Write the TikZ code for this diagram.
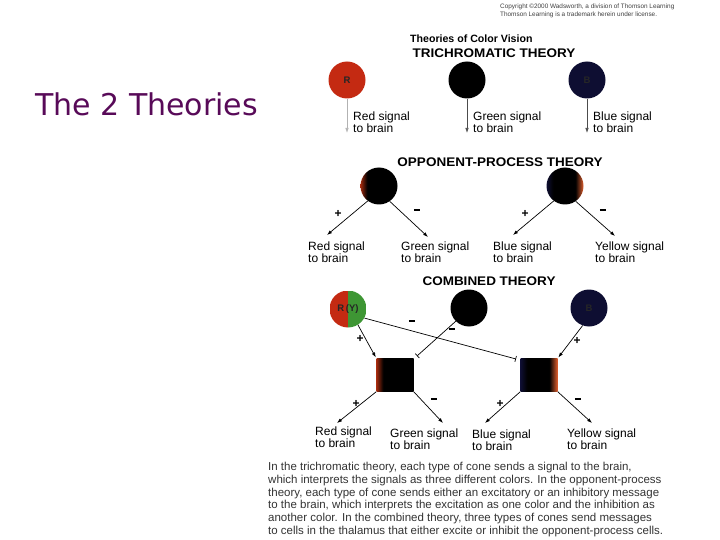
\documentclass[tikz,border=0pt]{standalone}
\usepackage{fontspec}
\setmainfont{Liberation Sans}
\newfontfamily\slidefont{DejaVu Sans}
\usetikzlibrary{arrows.meta}
\definecolor{slidepurple}{RGB}{88,10,88}
\definecolor{conered}{RGB}{196,42,18}
\definecolor{coneblue}{RGB}{14,14,50}
\definecolor{conegreen}{RGB}{62,150,52}
\definecolor{edgered}{RGB}{160,42,14}
\definecolor{edgeorange}{RGB}{225,95,45}
\pgfdeclarehorizontalshading{redfade}{100bp}{color(0bp)=(edgered); color(25bp)=(edgered); color(34bp)=(black); color(100bp)=(black)}
\pgfdeclarehorizontalshading{bluefade}{100bp}{color(0bp)=(coneblue); color(25bp)=(coneblue); color(34bp)=(black); color(64bp)=(black); color(75bp)=(edgeorange); color(100bp)=(edgeorange)}
\newcommand{\signal}[4]{%
  % name, x, y (top of the capitals), colour word.
  \node[sig] (#1) at (#2,#3) {#4 signal\\to brain};
}
\newcommand{\minus}{\rule[2.5pt]{6.5pt}{2pt}}
\tikzset{
  cone/.style={circle, minimum size=37pt, inner sep=0pt, font=\bfseries\fontsize{9.5}{9.5}\selectfont},
  cell/.style={minimum width=37pt, minimum height=33pt, inner sep=0pt},
  sig/.style={anchor=north west, align=left, inner sep=0pt, font=\fontsize{12}{12}\selectfont},
  head/.style={inner sep=0pt, xscale=1.08, font=\bfseries\fontsize{12.5}{12.5}\selectfont},
  sign/.style={inner sep=0pt, font=\bfseries\fontsize{12}{12}\selectfont},
  excite/.style={line width=0.7pt, -{Latex[length=5pt,width=3.5pt]}},
  inhibit/.style={line width=0.7pt, -{Bar[width=6pt]}}
}

\begin{document}
\begin{tikzpicture}[x=1pt,y=-1pt]
  \useasboundingbox (0,0) rectangle (720,540);
  \node[anchor=base west, inner sep=0pt, text=slidepurple, font=\slidefont\fontsize{30}{30}\selectfont] (title) at (35,116) {The 2 Theories};
  \node[anchor=north west, align=left, inner sep=0pt, text=black!75, font=\fontsize{6.4}{8}\selectfont] (copy) at (500,4) {Copyright \textcopyright2000 Wadsworth, a division of Thomson Learning\\Thomson Learning is a trademark herein under license.};
  \node[anchor=base west, inner sep=0pt, font=\bfseries\fontsize{10.6}{10.6}\selectfont] (fig) at (410,43) {Theories of Color Vision};

  % trichromatic
  \node[head] (tri) at (494,53) {TRICHROMATIC THEORY};
  \foreach \nm/\xx/\fc/\lt/\col/\ac in {R/347/conered/R/Red/black!30, G/467/black//Green/black!70, B/587/coneblue/B/Blue/black!70}{%
    \node[cone, fill=\fc, text=black!85] (t\nm) at (\xx,80) {\lt};
    \coordinate (t\nm end) at (\xx,133);
    \draw[excite, \ac] (t\nm) -- (t\nm end);
    \signal{t\nm sig}{\xx+6}{112}{\col}
  }

  % opponent-process
  \node[head] (opp) at (500,162) {OPPONENT-PROCESS THEORY};
  \node[cone, shading=redfade] (oL) at (379,186) {};
  \node[cone, shading=bluefade] (oR) at (565,186) {};
  \coordinate (oLr) at (327,235);
  \coordinate (oLg) at (428,237);
  \coordinate (oRb) at (513,235);
  \coordinate (oRy) at (615,236);
  \draw[excite] (oL.233) -- (oLr);
  \draw[excite] (oL.305) -- (oLg);
  \draw[excite] (oR.233) -- (oRb);
  \draw[excite] (oR.305) -- (oRy);
  \node[sign] (oLp) at (338,214) {+};
  \node[sign] (oLm) at (417,211) {\minus};
  \node[sign] (oRp) at (525,214) {+};
  \node[sign] (oRm) at (603,211) {\minus};
  \signal{oRed}{308}{242}{Red}
  \signal{oGreen}{401}{242}{Green}
  \signal{oBlue}{493}{242}{Blue}
  \signal{oYellow}{595}{242}{Yellow}

  % combined
  \node[head] (comb) at (489,281) {COMBINED THEORY};
  \node[cone, text=black!85, path picture={
      \fill[conered] (path picture bounding box.south west) rectangle (path picture bounding box.north);
      \fill[conegreen] (path picture bounding box.south) rectangle (path picture bounding box.north east);
    }] (cRY) at (348,309) {R\,(Y)};
  \node[cone, fill=black] (cG) at (469,308) {};
  \node[cone, fill=coneblue, text=black!85] (cB) at (589,308) {B};
  \node[cell, shading=redfade] (sqL) at (395,375) {};
  \node[cell, shading=bluefade] (sqR) at (539,375) {};
  \coordinate (gBar) at (417,356);
  \coordinate (yBar) at (516,359);
  \draw[excite, shorten >=1pt] (cRY.302) -- (sqL.north west);
  \draw[inhibit] (cG.225) -- (gBar);
  \draw[inhibit] (cRY.-29) -- (yBar);
  \draw[excite, shorten >=1pt] (cB.250) -- (sqR.north east);
  \node[sign] (cRp) at (360,339) {+};
  \node[sign] (cYm) at (412,322) {\minus};
  \node[sign] (cGm) at (452,330) {\minus};
  \node[sign] (cBp) at (577,341) {+};
  \coordinate (cLr) at (337,423);
  \coordinate (cLg) at (443,423);
  \coordinate (cRb) at (485,423);
  \coordinate (cRy) at (592,423);
  \draw[excite] (sqL.south west) -- (cLr);
  \draw[excite] (sqL.south east) -- (cLg);
  \draw[excite] (sqR.south west) -- (cRb);
  \draw[excite] (sqR.south east) -- (cRy);
  \node[sign] (sLp) at (356,404) {+};
  \node[sign] (sLm) at (434,400) {\minus};
  \node[sign] (sRp) at (500,404) {+};
  \node[sign] (sRm) at (578,400) {\minus};
  \signal{cRed}{315}{427}{Red}
  \signal{cGreen}{390}{429}{Green}
  \signal{cBlue}{472}{430}{Blue}
  \signal{cYellow}{567}{429}{Yellow}

  \node[anchor=north west, align=left, inner sep=0pt, text=black!80, font=\fontsize{11.5}{12.8}\selectfont] (caption) at (268,462) {In the trichromatic theory, each type of cone sends a signal to the brain,\\which interprets the signals as three different colors. In the opponent-process\\theory, each type of cone sends either an excitatory or an inhibitory message\\to the brain, which interprets the excitation as one color and the inhibition as\\another color. In the combined theory, three types of cones send messages\\to cells in the thalamus that either excite or inhibit the opponent-process cells.};
\end{tikzpicture}
\end{document}
